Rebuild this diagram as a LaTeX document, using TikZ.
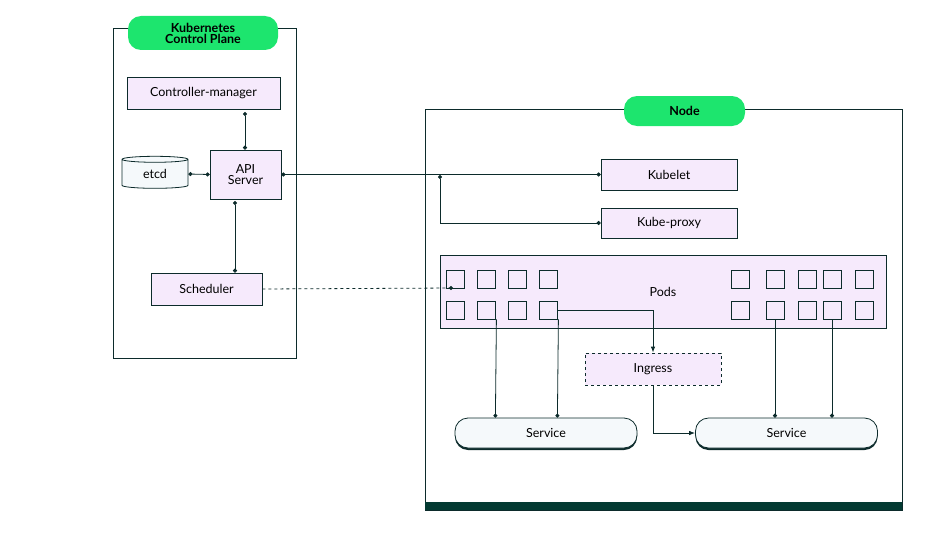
\documentclass[tikz,border=0pt]{standalone}
\usepackage{fontspec}
\setmainfont{Lato}
\usetikzlibrary{shapes.geometric,arrows.meta,positioning}
\definecolor{boxfill}{HTML}{F6EAFC}
\definecolor{pill}{HTML}{1DE56E}
\definecolor{edge}{HTML}{0C2B2B}
\definecolor{bar}{HTML}{033A32}
\definecolor{svcfill}{HTML}{F5F9FB}
\newcommand{\diagfont}{\fontsize{12.5}{14}\selectfont}
\tikzset{
	every path/.style={line width=0.8pt},
	comp/.style={draw=edge,fill=boxfill,font=\diagfont,inner sep=0pt},
	pod/.style={draw=edge,fill=boxfill,minimum width=18pt,minimum height=18pt,inner sep=0pt},
	label pill/.style={fill=pill,rounded corners=13pt,font=\diagfont\bfseries,align=center,inner sep=0pt},
	svc/.style={draw=edge,fill=svcfill,rounded corners=13pt,minimum width=182pt,minimum height=30pt,font=\diagfont},
	dotted link/.style={{Circle[length=4pt]}-{Circle[length=4pt]},edge},
	arr/.style={-{Latex[length=6pt]},edge}
}
\begin{document}
\begin{tikzpicture}[x=1pt,y=-1pt]
	\useasboundingbox (0,0) rectangle (939,543);
	
	%control plane
	\draw[edge] (113,28) rectangle (296,358);
	\node[label pill,minimum width=150pt,minimum height=34pt] (cplabel) at (203,33) {Kubernetes\\[-3pt]Control Plane};
	\node[comp,minimum width=153pt,minimum height=32pt] (cm) at (203.5,93) {Controller-manager};
	\node[comp,minimum width=71pt,minimum height=49pt,align=center] (api) at (245.5,174.5) {API\\[-3pt]Server};
	\node[comp,cylinder,shape border rotate=90,aspect=0.25,minimum width=66pt,minimum height=32pt,fill=svcfill] (etcd) at (155,174) {etcd};
	\node[comp,minimum width=111pt,minimum height=32pt] (sched) at (206.5,289) {Scheduler};
	
	%node
	\draw[edge] (425,109) rectangle (902,510);
	\fill[bar] (425,502) rectangle (902,510);
	\node[label pill,minimum width=121pt,minimum height=30pt] (nodelabel) at (684.5,111) {Node};
	\node[comp,minimum width=136pt,minimum height=31pt] (kubelet) at (669,174.5) {Kubelet};
	\node[comp,minimum width=136pt,minimum height=30pt] (proxy) at (669,223) {Kube-proxy};
	\node[comp,minimum width=446pt,minimum height=73pt] (pods) at (663,291.5) {Pods};
	\foreach \x [count=\i] in {455,486,517,548,740,775,807,832,864}{
		\node[pod] (t\i) at (\x,279) {};
		\node[pod] (b\i) at (\x,310) {};
	}
	\node[comp,dashed,minimum width=136pt,minimum height=32pt] (ingress) at (653,369) {Ingress};
	\foreach \x [count=\i] in {546,786.5}{
		\fill[edge,rounded corners=13pt] (\x-91,420) rectangle (\x+91,450);	%bottom edge
		\node[svc] (svc\i) at (\x,433) {Service};
	}
	
	%links
	\coordinate (cmb) at (245,112);
	\coordinate (apis) at (235,201);
	\coordinate (split) at (440,175);
	\draw[dotted link] (cmb) -- (cmb |- api.north);
	\draw[dotted link] (etcd.east) -- (api.west);
	\draw[dotted link] (api.east) -- (kubelet.west);
	\draw[dotted link] (split) |- (proxy.west);
	\draw[dotted link] (apis) -- (apis |- sched.north);
	\draw[edge,dashed,-{Circle[length=4pt]}] (sched.east) -- (453,288);
	\foreach \p in {b2,b4}{
		\draw[edge,-{Circle[length=4pt]}] (\p.south east) ++(1,0) -- (\p.south east |- svc1.north);
	}
	\foreach \p in {b6,b8}{
		\draw[edge,-{Circle[length=4pt]}] (\p.south) -- (\p.south |- svc2.north);
	}
	\draw[arr] (b4.east) -| (ingress.north);
	\draw[arr] (ingress.south) |- (svc2.west);
\end{tikzpicture}
\end{document}
